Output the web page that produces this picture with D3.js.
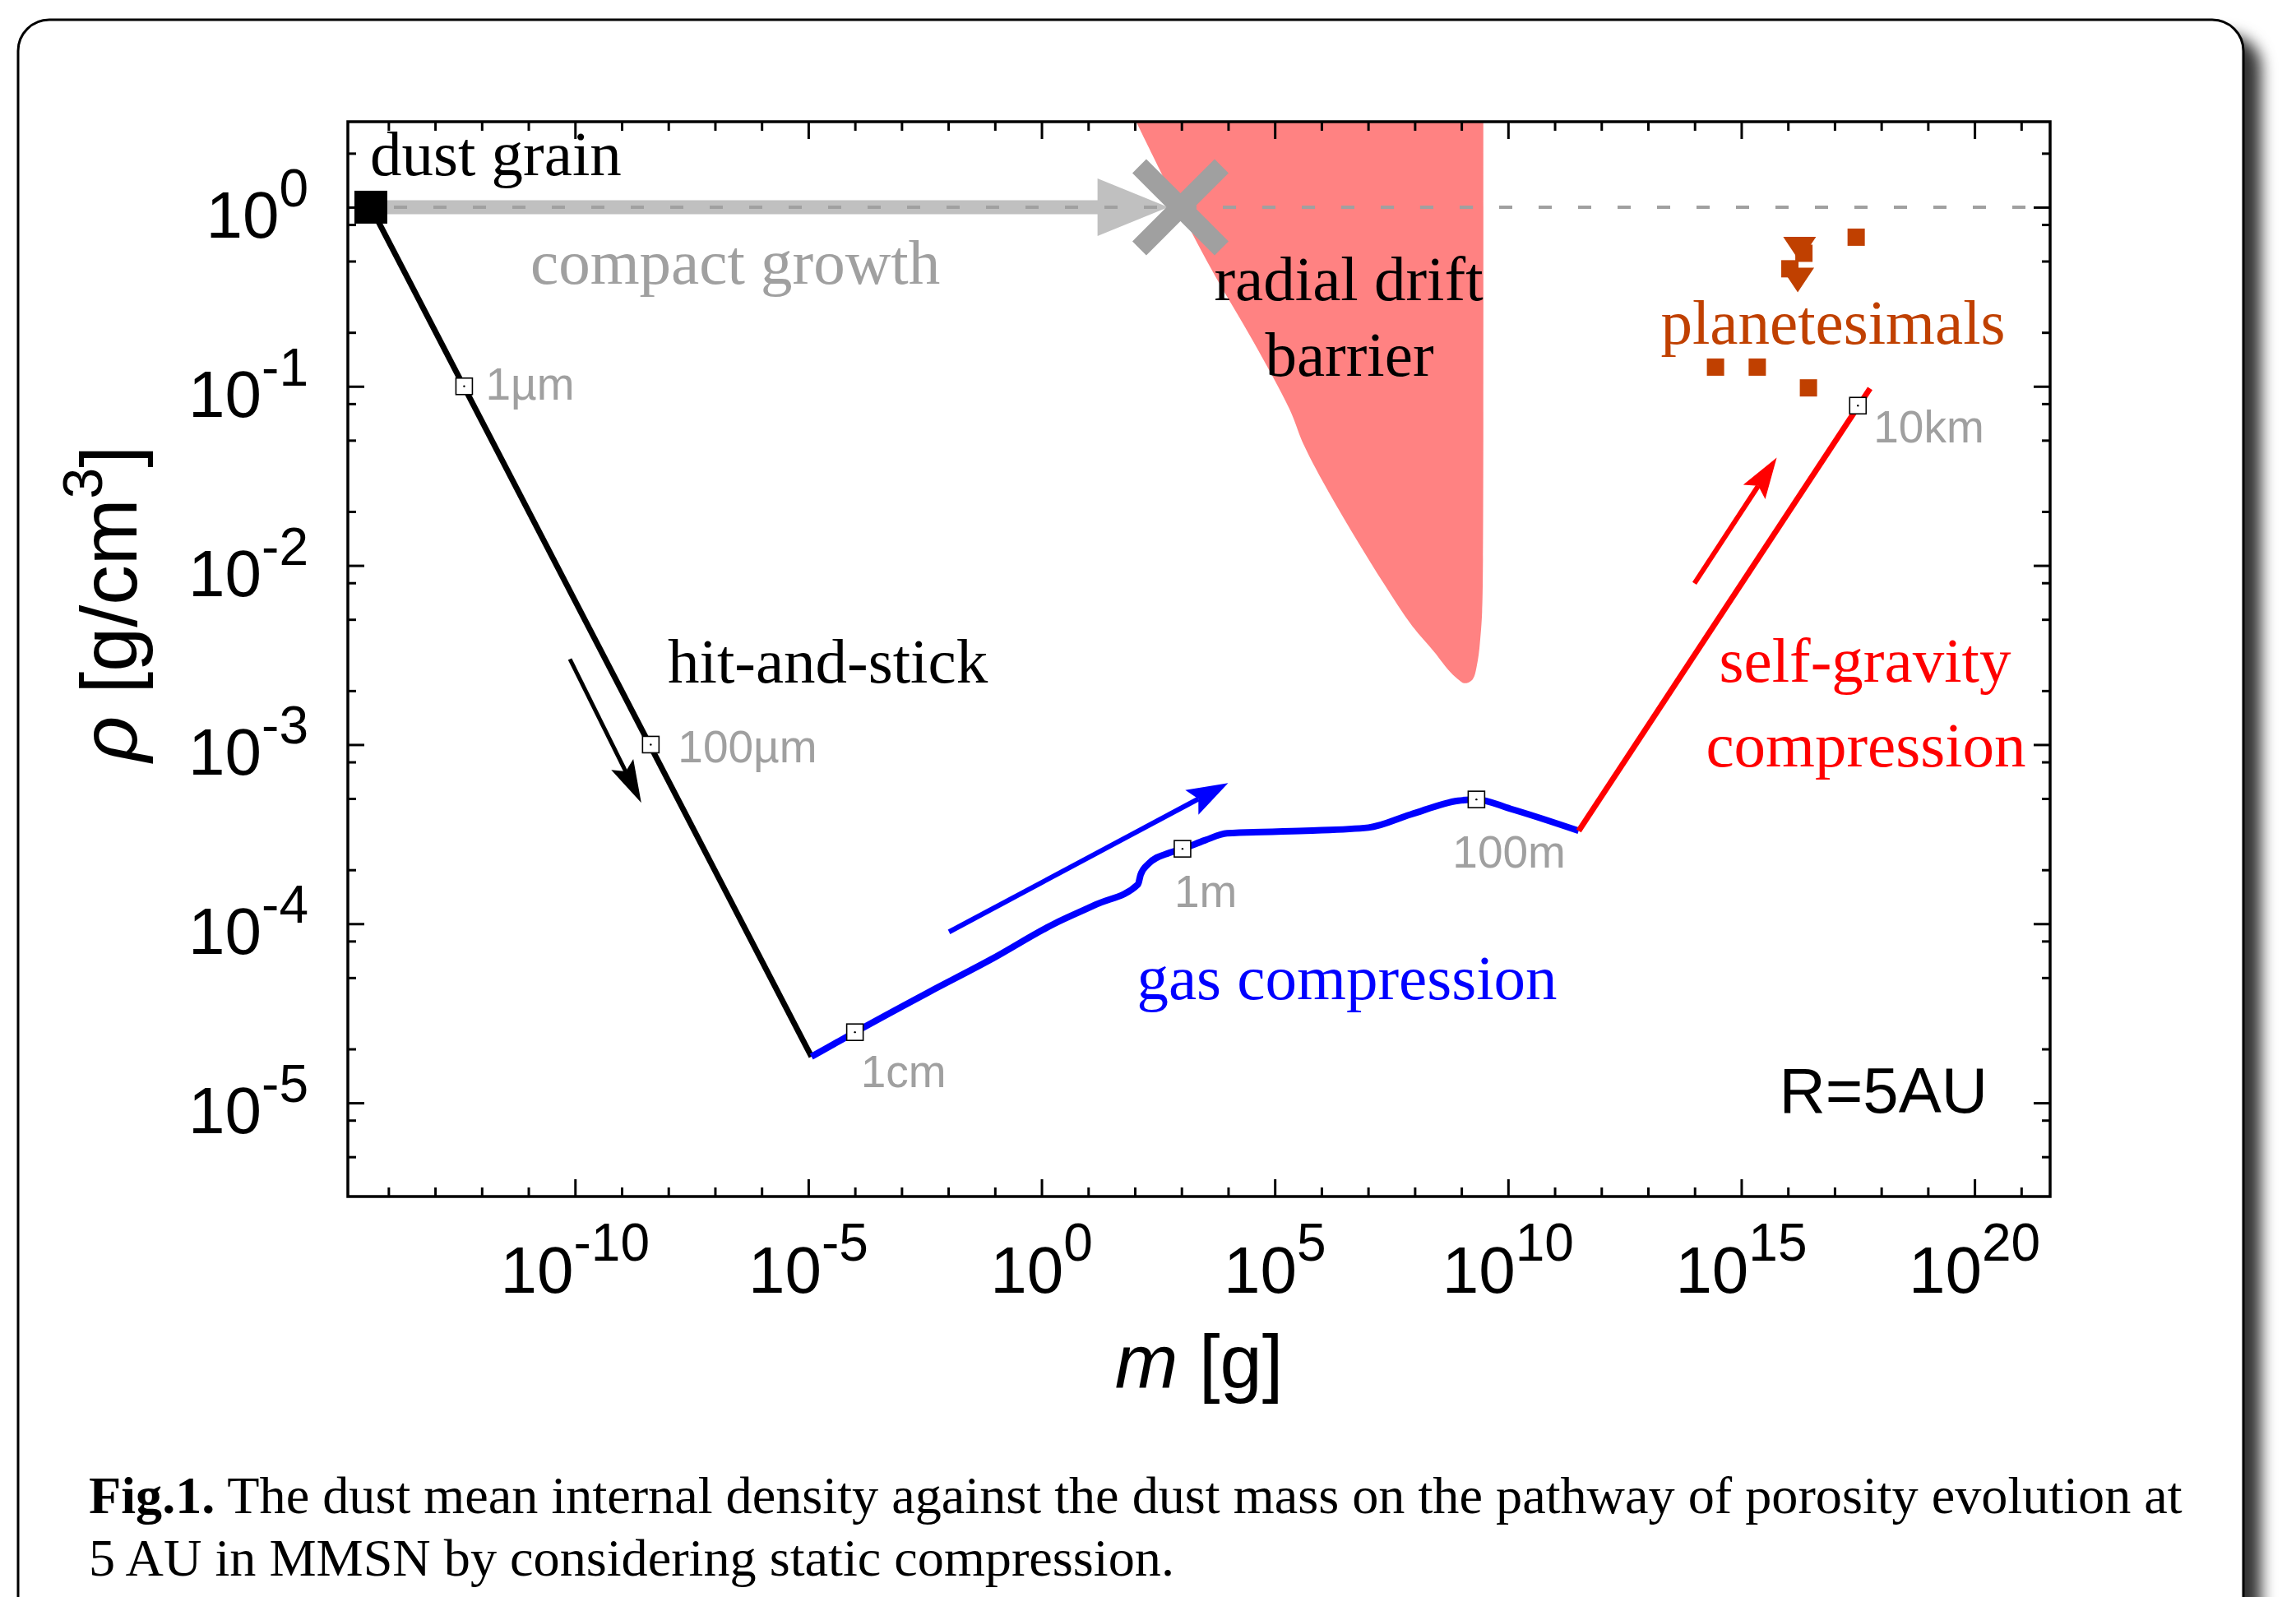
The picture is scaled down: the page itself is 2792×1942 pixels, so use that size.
<!DOCTYPE html>
<html>
<head>
<meta charset="utf-8">
<script src="https://cdn.jsdelivr.net/npm/d3@7"></script>
<style>
  html, body { margin: 0; padding: 0; background: #fff; }
  svg { display: block; }
</style>
</head>
<body>
<svg id="fig" width="2792" height="1942"></svg>
<script>
// ---------- data ----------
// initial monomer (0.1 µm compact grain)
const grainMass = 4.2e-15;
const grainRho = 1;

// hit-and-stick growth (fractal dimension ~2)
const hitStickMass = [4.2e-15, 1.17e-5];
const hitStickRho  = [1, 1.81e-5];

// static compression by the ambient gas
const gasMass = [1.17e-5, 1e-4, 3.7e-3, 8.2e-2, 1.85, 14.7, 117, 133, 195, 553, 1.05e3,
                 3.16e3, 9.5e3, 4.6e5, 1.02e7, 8.1e7, 8.5e8, 2.1e9, 1.12e10, 3.27e11];
const gasRho  = [1.81e-5, 2.48e-5, 4.13e-5, 6.31e-5, 9.98e-5, 1.28e-4, 1.66e-4, 1.88e-4, 2.16e-4,
                 2.49e-4, 2.62e-4, 2.92e-4, 3.2e-4, 3.3e-4, 3.44e-4, 4.07e-4, 4.86e-4, 4.94e-4,
                 4.38e-4, 3.3e-4];

// compression by self-gravity
const selfGravMass = [3.27e11, 5.75e17];
const selfGravRho  = [3.3e-4, 9.73e-2];

// outline of the radial drift barrier
const driftMass = [1.07e2, 9.0e2, 5.5e3, 3.34e4, 2.07e5, 4.17e5, 1.5e6, 5.8e6, 2.24e7, 8.7e7,
                   2.57e8, 5.78e8, 8.9e8, 1.14e9, 1.71e9, 2.24e9, 2.57e9, 2.78e9, 2.9e9, 2.95e9];
const driftRho  = [3.0, 0.98, 0.405, 0.181, 0.0746, 0.0472, 0.0251, 0.0138, 7.83e-3, 4.62e-3,
                   3.31e-3, 2.54e-3, 2.29e-3, 2.2e-3, 2.3e-3, 2.94e-3, 4.04e-3, 5.53e-3, 1.08e-2, 3.0];

// compact growth until the drift barrier
const compactMass = [4.2e-15, 5.2e2];
const compactStopMass = 9.5e2;

// planetesimal estimates
const planSqMass = [2.9e17, 2.2e16, 1.1e16, 2.8e14, 2.2e15, 2.75e16];
const planSqRho  = [0.68, 0.553, 0.453, 0.128, 0.128, 0.098];
const planTriMass = [1.78e16, 1.62e16];
const planTriRho  = [0.583, 0.392];

// size markers along the path
const sizeLabels = ["1µm", "100µm", "1cm", "1m", "100m", "10km"];
const sizeMass   = [4.2e-13, 4.2e-9, 1e-4, 1.05e3, 2.1e9, 3.16e17];
const sizeRho    = [0.1, 1e-3, 2.48e-5, 2.62e-4, 4.94e-4, 7.8e-2];

// direction arrows [from, to] in (m, rho)
const hitStickArrow = [[7.76e-11, 3.0e-3], [2.63e-9, 4.73e-4]];
const gasArrow      = [[1.04e-2, 9.0e-5], [1e4, 6.1e-4]];
const selfGravArrow = [[9.9e13, 7.94e-3], [5.75e15, 4.0e-2]];

// axis ticks (exponents)
const xTickExp = [-10, -5, 0, 5, 10, 15, 20];
const yTickExp = [0, -1, -2, -3, -4, -5];

// ---------- layout ----------
const svg = d3.select("#fig");
const L = 423, R = 2493, T = 148, B = 1455;
const SERIF = "'Liberation Serif', 'Times New Roman', serif";
const SANS = "'Liberation Sans', Arial, Helvetica, sans-serif";

const x = d3.scaleLog().domain([Math.pow(10, -14.87), Math.pow(10, 21.62)]).range([L, R]);
const y = d3.scaleLog().domain([3e-6, 3]).range([B, T]);

// frame with drop shadow
const defs = svg.append("defs");
const f = defs.append("filter").attr("id", "shadow")
  .attr("x", "-5%").attr("y", "-5%").attr("width", "115%").attr("height", "115%");
f.append("feDropShadow").attr("dx", 20).attr("dy", 20).attr("stdDeviation", 9)
  .attr("flood-color", "#000").attr("flood-opacity", 0.8);
defs.append("clipPath").attr("id", "plotclip").append("rect")
  .attr("x", L).attr("y", T).attr("width", R - L).attr("height", B - T);

svg.append("rect").attr("x", 22).attr("y", 24).attr("width", 2706).attr("height", 2100)
  .attr("rx", 38).attr("ry", 38).attr("fill", "#fff").attr("stroke", "#000")
  .attr("stroke-width", 3).attr("filter", "url(#shadow)");

const plot = svg.append("g").attr("clip-path", "url(#plotclip)");

// radial drift barrier
const driftPts = driftMass.map((m, i) => [x(m), y(driftRho[i])]);
plot.append("path")
  .attr("d", d3.line().curve(d3.curveCatmullRom.alpha(0.5))(driftPts) + "Z")
  .attr("fill", "#ff8282").attr("stroke", "none");

// compact growth band + head
const cy0 = y(grainRho);
const cx0 = x(compactMass[0]), cTip = x(compactMass[1]);
const headLenC = 86, headHalfC = 35;
plot.append("line").attr("x1", cx0).attr("x2", cTip - headLenC + 1)
  .attr("y1", cy0).attr("y2", cy0).attr("stroke", "#c0c0c0").attr("stroke-width", 17);
plot.append("path")
  .attr("d", `M${cTip},${cy0}L${cTip - headLenC},${cy0 - headHalfC}L${cTip - headLenC},${cy0 + headHalfC}Z`)
  .attr("fill", "#c0c0c0");

// rho = 1 reference line
plot.append("line").attr("x1", L).attr("x2", R).attr("y1", cy0).attr("y2", cy0)
  .attr("stroke", "#a0a0a0").attr("stroke-width", 4).attr("stroke-dasharray", "16 32")
  .attr("stroke-dashoffset", -8);

// barrier cross
const xc = x(compactStopMass);
[[-1, -1], [-1, 1]].forEach(([a, b]) => {
  plot.append("line").attr("x1", xc + a * 50).attr("y1", cy0 + b * 50)
    .attr("x2", xc - a * 50).attr("y2", cy0 - b * 50)
    .attr("stroke", "#a0a0a0").attr("stroke-width", 24);
});

// growth path
const lineGen = d3.line().x(d => x(d[0])).y(d => y(d[1]));
plot.append("path").datum(hitStickMass.map((m, i) => [m, hitStickRho[i]]))
  .attr("d", lineGen).attr("fill", "none").attr("stroke", "#000").attr("stroke-width", 7);
plot.append("path").datum(gasMass.map((m, i) => [m, gasRho[i]]))
  .attr("d", lineGen.curve(d3.curveMonotoneX)).attr("fill", "none").attr("stroke", "#0000ff")
  .attr("stroke-width", 8).attr("stroke-linejoin", "round");
plot.append("path").datum(selfGravMass.map((m, i) => [m, selfGravRho[i]]))
  .attr("d", d3.line().x(d => x(d[0])).y(d => y(d[1]))).attr("fill", "none")
  .attr("stroke", "#ff0000").attr("stroke-width", 7);

// arrows
function arrow(pair, color, width, headLen, headW) {
  const [x0, y0] = [x(pair[0][0]), y(pair[0][1])];
  const [x1, y1] = [x(pair[1][0]), y(pair[1][1])];
  const dx = x1 - x0, dy = y1 - y0, len = Math.hypot(dx, dy);
  const ux = dx / len, uy = dy / len;
  const bx = x1 - ux * headLen, by = y1 - uy * headLen;
  const nx = bx + ux * headLen * 0.18, ny = by + uy * headLen * 0.18;
  plot.append("line").attr("x1", x0).attr("y1", y0).attr("x2", nx).attr("y2", ny)
    .attr("stroke", color).attr("stroke-width", width);
  plot.append("path")
    .attr("d", `M${x1},${y1}L${bx - uy * headW / 2},${by + ux * headW / 2}L${nx},${ny}L${bx + uy * headW / 2},${by - ux * headW / 2}Z`)
    .attr("fill", color);
}
arrow(hitStickArrow, "#000", 5, 52, 30);
arrow(gasArrow, "#0000ff", 6, 50, 34);
arrow(selfGravArrow, "#ff0000", 6, 50, 32);

// planetesimals
const planColor = "#c04000";
plot.selectAll(".psq").data(planSqMass.map((m, i) => [m, planSqRho[i]])).join("rect")
  .attr("x", d => x(d[0]) - 10.5).attr("y", d => y(d[1]) - 10.5)
  .attr("width", 21).attr("height", 21).attr("fill", planColor);
plot.selectAll(".ptri").data(planTriMass.map((m, i) => [m, planTriRho[i]])).join("path")
  .attr("d", d => { const px = x(d[0]), py = y(d[1]);
    return `M${px - 20},${py - 15}L${px + 20},${py - 15}L${px},${py + 15}Z`; })
  .attr("fill", planColor);

// dust grain
svg.append("rect").attr("x", x(grainMass) - 20).attr("y", y(grainRho) - 20)
  .attr("width", 40).attr("height", 40).attr("fill", "#000");

// size markers
const sizePts = sizeMass.map((m, i) => [x(m), y(sizeRho[i])]);
svg.selectAll(".smk").data(sizePts).join("rect")
  .attr("x", d => d[0] - 10).attr("y", d => d[1] - 10).attr("width", 20).attr("height", 20)
  .attr("fill", "#fff").attr("stroke", "#000").attr("stroke-width", 1.6);
svg.selectAll(".sdot").data(sizePts).join("circle")
  .attr("cx", d => d[0]).attr("cy", d => d[1]).attr("r", 1.2).attr("fill", "#000");
const sizeOffsets = [[26, 16], [33, 22], [7, 67], [-10, 71], [-29, 83], [19, 45]];
svg.selectAll(".slab").data(sizeLabels).join("text")
  .attr("x", (d, i) => sizePts[i][0] + sizeOffsets[i][0])
  .attr("y", (d, i) => sizePts[i][1] + sizeOffsets[i][1])
  .attr("font-family", SANS).attr("font-size", 55).attr("fill", "#a0a0a0").text(d => d);

// ---------- axes ----------
const xMajor = xTickExp.map(e => Math.pow(10, e));
const xMinor = d3.range(-14, 22).filter(e => e % 5 !== 0).map(e => Math.pow(10, e));
const yMajor = yTickExp.map(e => Math.pow(10, e));
const yMinor = [];
d3.range(-6, 1).forEach(k => [2, 5, 8].forEach(c => {
  const v = c * Math.pow(10, k); if (v > 3e-6 && v < 3) yMinor.push(v);
}));

function drawAxis(axisFn, scale, vals, size, tr) {
  const g = svg.append("g").attr("transform", tr)
    .call(axisFn(scale).tickValues(vals).tickSize(-size).tickSizeOuter(0).tickFormat(""));
  g.select(".domain").remove();
  g.selectAll("line").attr("stroke", "#000").attr("stroke-width", 3);
  g.selectAll("text").remove();
}
drawAxis(d3.axisBottom, x, xMajor, 21, `translate(0,${B})`);
drawAxis(d3.axisBottom, x, xMinor, 11, `translate(0,${B})`);
drawAxis(d3.axisTop, x, xMajor, 21, `translate(0,${T})`);
drawAxis(d3.axisTop, x, xMinor, 11, `translate(0,${T})`);
drawAxis(d3.axisLeft, y, yMajor, 20, `translate(${L},0)`);
drawAxis(d3.axisLeft, y, yMinor, 10, `translate(${L},0)`);
drawAxis(d3.axisRight, y, yMajor, 20, `translate(${R},0)`);
drawAxis(d3.axisRight, y, yMinor, 10, `translate(${R},0)`);

svg.append("rect").attr("x", L).attr("y", T).attr("width", R - L).attr("height", B - T)
  .attr("fill", "none").attr("stroke", "#000").attr("stroke-width", 3.5);

// tick labels
svg.selectAll(".xtl").data(xTickExp).join("text")
  .attr("x", d => x(Math.pow(10, d))).attr("y", 1572).attr("text-anchor", "middle")
  .attr("font-family", SANS).attr("font-size", 80).attr("fill", "#000")
  .each(function (d) {
    const t = d3.select(this);
    t.append("tspan").text("10");
    t.append("tspan").attr("dy", -39).attr("font-size", 64).text(String(d));
  });
svg.selectAll(".ytl").data(yTickExp).join("text")
  .attr("x", 375).attr("y", d => y(Math.pow(10, d)) + 37).attr("text-anchor", "end")
  .attr("font-family", SANS).attr("font-size", 80).attr("fill", "#000")
  .each(function (d) {
    const t = d3.select(this);
    t.append("tspan").text("10");
    t.append("tspan").attr("dy", -38).attr("font-size", 64).text(String(d));
  });

// axis titles
const xt = svg.append("text").attr("x", (L + R) / 2).attr("y", 1688).attr("text-anchor", "middle")
  .attr("font-family", SANS).attr("font-size", 92).attr("fill", "#000");
xt.append("tspan").attr("font-style", "italic").text("m");
xt.append("tspan").text(" [g]");

const yt = svg.append("text").attr("transform", "translate(166,734) rotate(-90)")
  .attr("text-anchor", "middle").attr("font-family", SANS).attr("font-size", 97).attr("fill", "#000");
yt.append("tspan").attr("font-style", "italic").text("ρ");
yt.append("tspan").text(" [g/cm");
yt.append("tspan").attr("dy", -42).attr("font-size", 68).text("3");
yt.append("tspan").attr("dy", 42).text("]");

// ---------- annotations ----------
function note(txt, px, py, color, anchor, family, size) {
  svg.append("text").attr("x", px).attr("y", py).attr("text-anchor", anchor || "start")
    .attr("font-family", family || SERIF).attr("font-size", size || 77).attr("fill", color).text(txt);
}
note("dust grain", x(grainMass) - 1, y(grainRho) - 39, "#000");
note("compact growth", 645, 345, "#a0a0a0");
note("radial drift", 1640, 365, "#000", "middle");
note("barrier", 1641, 457, "#000", "middle");
note("planetesimals", 2229, 418, planColor, "middle");
note("hit-and-stick", 812, 830, "#000");
note("self-gravity", 2268, 829, "#ff0000", "middle");
note("compression", 2269, 932, "#ff0000", "middle");
note("gas compression", 1638, 1215, "#0000ff", "middle");
note("R=5AU", 2417, 1353, "#000", "end", SANS, 78);

// ---------- caption ----------
const cap1 = svg.append("text").attr("x", 108).attr("y", 1840)
  .attr("font-family", SERIF).attr("font-size", 60).attr("fill", "#000");
cap1.append("tspan").attr("font-weight", "bold").text("Fig.1.");
cap1.append("tspan").text(" The dust mean internal density against the dust mass on the pathway of porosity evolution at");
const cap2 = svg.append("text").attr("x", 108).attr("y", 1916)
  .attr("font-family", SERIF).attr("font-size", 60).attr("fill", "#000")
  .text("5 AU in MMSN by considering static compression.");
const w1 = cap1.node().getComputedTextLength();
if (w1 > 0) {
  const fs = 60 * 2546 / w1;
  cap1.attr("font-size", fs);
  cap2.attr("font-size", fs);
}
</script>
</body>
</html>
